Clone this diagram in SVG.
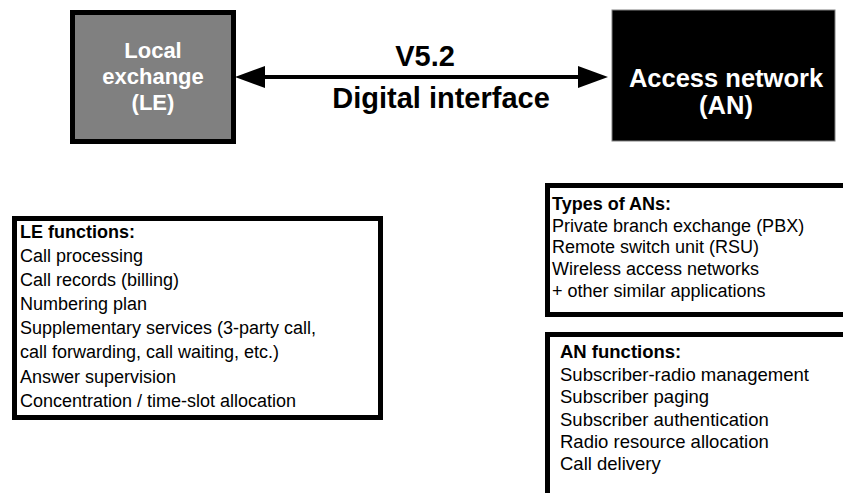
<svg xmlns="http://www.w3.org/2000/svg" width="843" height="493" viewBox="0 0 843 493">
  <style>
    text { font-family: "Liberation Sans", Arial, sans-serif; fill: #000; }
    .big { font-weight: bold; text-anchor: middle; font-size: 29px; }
    .node-label { font-weight: bold; font-size: 22px; text-anchor: middle; fill: #fff; }
    .an-label { font-size: 25.5px; }
    .list { font-size: 18px; }
    .list-lg { font-size: 18.5px; }
    .head { font-weight: bold; }
    .panel { fill: #fff; stroke: #000; stroke-width: 5; }
    .link { stroke: #000; stroke-width: 4; fill: none; }
  </style>
  <defs>
    <marker id="head" markerUnits="userSpaceOnUse" markerWidth="30" markerHeight="22" refX="15" refY="11" orient="auto-start-reverse">
      <path d="M0,0 L30,11 L0,22 Z" fill="#000"/>
    </marker>
  </defs>
  <rect width="843" height="493" fill="#fff"/>

  <!-- local exchange -->
  <g id="le">
    <rect x="72.5" y="12.5" width="161" height="129" fill="#808080" stroke="#000" stroke-width="5"/>
    <text class="node-label" x="153" y="58">Local</text>
    <text class="node-label" x="153" y="84">exchange</text>
    <text class="node-label" x="153" y="110">(LE)</text>
  </g>

  <!-- access network -->
  <g id="an">
    <rect x="612" y="10" width="223" height="131" fill="#000" stroke="#808080" stroke-width="1"/>
    <text class="node-label an-label" x="726" y="87">Access network</text>
    <text class="node-label an-label" x="726" y="114">(AN)</text>
  </g>

  <!-- V5.2 interface link -->
  <g id="connectors">
    <line class="link" x1="250" y1="77" x2="593" y2="77" marker-start="url(#head)" marker-end="url(#head)"/>
  </g>
  <g id="interface-label">
    <text class="big" x="425" y="66">V5.2</text>
    <text class="big" x="441" y="108">Digital interface</text>
  </g>

  <!-- LE functions panel -->
  <g id="le-functions">
    <rect class="panel" x="14.5" y="218.5" width="366" height="199"/>
    <text class="list head" x="20" y="238">LE functions:</text>
    <text class="list" x="20" y="262">Call processing</text>
    <text class="list" x="20" y="286">Call records (billing)</text>
    <text class="list" x="20" y="310">Numbering plan</text>
    <text class="list" x="20" y="334">Supplementary services (3-party call,</text>
    <text class="list" x="20" y="358">call forwarding, call waiting, etc.)</text>
    <text class="list" x="20" y="383">Answer supervision</text>
    <text class="list" x="20" y="407">Concentration / time-slot allocation</text>
  </g>

  <!-- types of access network -->
  <g id="an-types">
    <rect class="panel" x="547.5" y="185.5" width="310" height="129"/>
    <text class="list head" x="552" y="210">Types of ANs:</text>
    <text class="list" x="552" y="232">Private branch exchange (PBX)</text>
    <text class="list" x="552" y="253">Remote switch unit (RSU)</text>
    <text class="list" x="552" y="275">Wireless access networks</text>
    <text class="list" x="552" y="297">+ other similar applications</text>
  </g>

  <!-- AN functions panel -->
  <g id="an-functions">
    <rect class="panel" x="547.5" y="334.5" width="310" height="170"/>
    <text class="list-lg head" x="560" y="358">AN functions:</text>
    <text class="list-lg" x="560" y="381">Subscriber-radio management</text>
    <text class="list-lg" x="560" y="403">Subscriber paging</text>
    <text class="list-lg" x="560" y="426">Subscriber authentication</text>
    <text class="list-lg" x="560" y="448">Radio resource allocation</text>
    <text class="list-lg" x="560" y="470">Call delivery</text>
  </g>
</svg>
